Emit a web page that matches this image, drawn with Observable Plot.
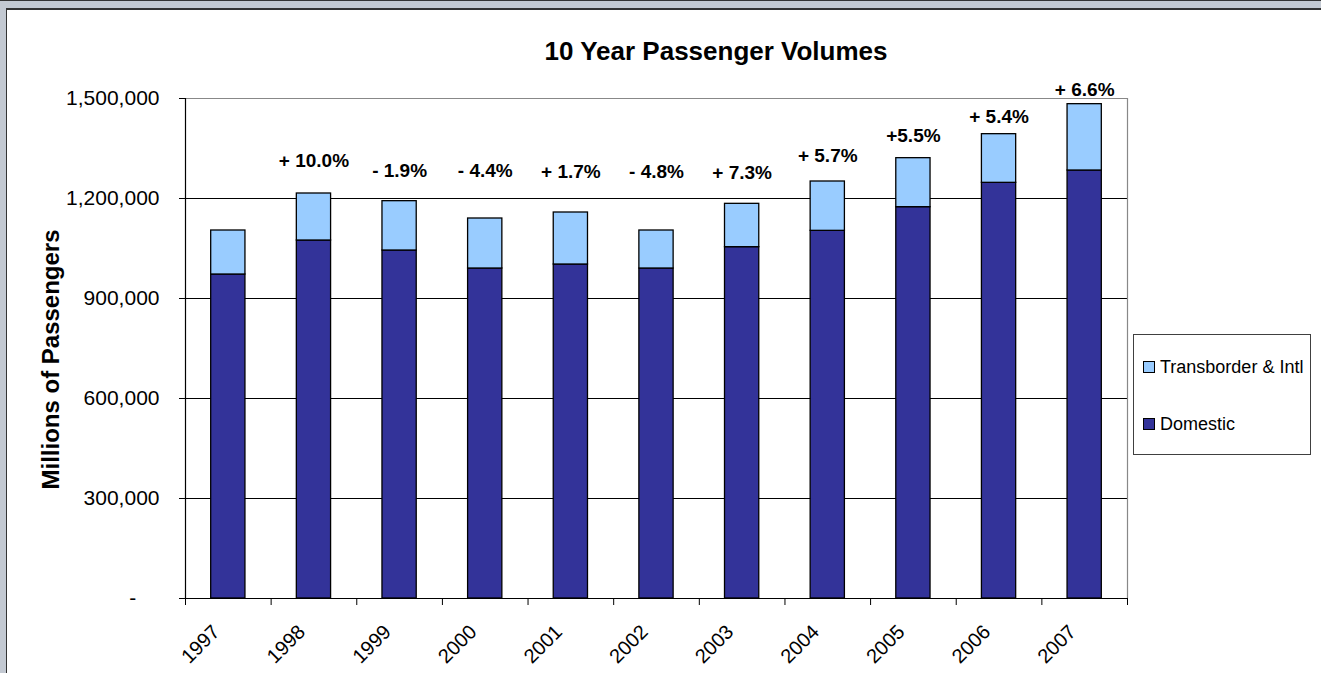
<!DOCTYPE html>
<html>
<head>
<meta charset="utf-8">
<script src="https://cdn.jsdelivr.net/npm/d3@7"></script>
<script src="https://cdn.jsdelivr.net/npm/@observablehq/plot@0.6"></script>
<style>
  html, body { margin: 0; padding: 0; }
  body { width: 1321px; height: 673px; background: #c3c9d2; border-top: 1px solid #333; box-sizing: border-box; position: relative; overflow: hidden; font-family: "Liberation Sans", Arial, sans-serif; }
  #frame { position: absolute; left: 6px; top: 7px; right: 0; bottom: 0; background: #fff; border-left: 1.5px solid #333; border-top: 2px solid #333; }
  #chart { position: absolute; left: 0; top: -1px; }
  #chart svg { background: transparent; }
  #title { position: absolute; left: 0; width: 1432px; top: 37px; text-align: center; font-weight: bold; font-size: 26px; line-height: 26px; color: #000; }
  #legend { position: absolute; left: 1133px; top: 333px; width: 178px; height: 121px; border: 1px solid #404040; box-sizing: border-box; background: #fff; }
  .item { position: absolute; left: 9px; font-size: 18px; line-height: 18px; color: #000; white-space: nowrap; }
  .sw { display: inline-block; width: 10px; height: 10px; border: 1px solid #000; margin-right: 5px; vertical-align: 0px; }
</style>
</head>
<body>
<div id="frame"></div>
<div id="chart"></div>
<div id="title">10 Year Passenger Volumes</div>
<div id="legend">
  <div class="item" style="top:23px"><span class="sw" style="background:#99ccff"></span>Transborder &amp; Intl</div>
  <div class="item" style="top:80px"><span class="sw" style="background:#333399"></span>Domestic</div>
</div>
<script>
const years = [1997, 1998, 1999, 2000, 2001, 2002, 2003, 2004, 2005, 2006, 2007];
const domestic = [972000, 1074000, 1044000, 990000, 1002000, 990000, 1054000, 1103000, 1174000, 1247000, 1284000];
const transborder = [132000, 141000, 148000, 150000, 156000, 114000, 130000, 148000, 147000, 146000, 199000];
const pctYears = [1998, 1999, 2000, 2001, 2002, 2003, 2004, 2005, 2006, 2007];
const pctLabels = ["+ 10.0%", "- 1.9%", "- 4.4%", "+ 1.7%", "- 4.8%", "+ 7.3%", "+ 5.7%", "+5.5%", "+ 5.4%", "+ 6.6%"];
const pctLabelY = [1314000, 1284000, 1284000, 1279000, 1279000, 1278000, 1329000, 1389000, 1446000, 1526000];
const yTicks = [0, 300000, 600000, 900000, 1200000, 1500000];
const yLabel = "Millions of Passengers";

const rows = years.map((y, i) => ({year: y, dom: domestic[i], tot: domestic[i] + transborder[i]}));
const pcts = pctYears.map((y, i) => ({year: y, label: pctLabels[i], y: pctLabelY[i]}));
const bounds = years.map(y => y - 0.5).concat([years[years.length - 1] + 0.5]);
const half = 0.2;
const fmt = d3.format(",");

const chart = Plot.plot({
  width: 1321,
  height: 673,
  marginLeft: 185,
  marginRight: 194,
  marginTop: 98,
  marginBottom: 75,
  style: {background: "transparent", fontFamily: "'Liberation Sans', Arial, sans-serif", fontSize: "21px", color: "#000"},
  x: {type: "linear", domain: [bounds[0], bounds[bounds.length - 1]], ticks: bounds, tickFormat: () => "", tickSize: 7, label: null},
  y: {domain: [0, 1500000], ticks: yTicks, tickSize: 6, tickPadding: 20, label: null,
      tickFormat: d => d === 0 ? "-\u00a0\u00a0\u00a0\u00a0" : fmt(d)},
  marks: [
    Plot.ruleY(yTicks.filter(v => v > 0 && v < 1500000), {stroke: "#000", strokeWidth: 1}),
    Plot.ruleY([1500000], {stroke: "#888", strokeWidth: 1.2}),
    Plot.ruleX([bounds[bounds.length - 1]], {y1: 0, y2: 1500000, stroke: "#888", strokeWidth: 1.2}),
    Plot.rectY(rows, {x1: d => d.year - half, x2: d => d.year + half, y1: 0, y2: "dom", fill: "#333399", stroke: "#000", strokeWidth: 1.3}),
    Plot.rectY(rows, {x1: d => d.year - half, x2: d => d.year + half, y1: "dom", y2: "tot", fill: "#99ccff", stroke: "#000", strokeWidth: 1.3}),
    Plot.ruleX([bounds[0]], {y1: 0, y2: 1500000, stroke: "#000", strokeWidth: 1.2}),
    Plot.ruleY([0], {stroke: "#000", strokeWidth: 1.2}),
    Plot.text(years, {x: d => d, y: 0, text: d => String(d), rotate: -45, textAnchor: "end", dx: -12, dy: 30, fontSize: 20}),
    Plot.text(pcts, {x: "year", y: "y", text: "label", fontWeight: "bold", fontSize: 19}),
    Plot.text([yLabel], {frameAnchor: "left", text: d => d, rotate: -90, textAnchor: "middle", dx: -134, dy: 11, fontWeight: "bold", fontSize: 24})
  ]
});
document.getElementById("chart").appendChild(chart);
</script>
</body>
</html>
